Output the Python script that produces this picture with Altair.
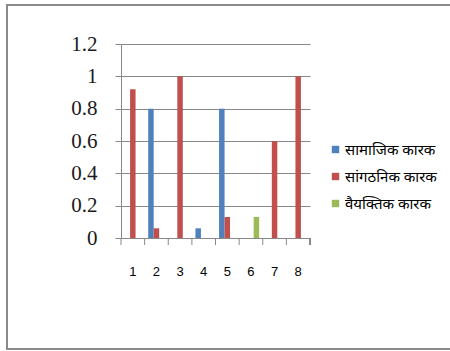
import altair as alt
import pandas as pd

# Category labels and the three factor series
categories = ["1", "2", "3", "4", "5", "6", "7", "8"]
series = ["सामाजिक कारक", "सांगठनिक कारक", "वैयक्तिक कारक"]
social = [0, 0.8, 0, 0.06, 0.8, 0, 0, 0]
organisational = [0.92, 0.06, 1, 0, 0.13, 0, 0.6, 1]
personal = [0, 0, 0, 0, 0, 0.13, 0, 0]
colors = ["#4F81BD", "#C0504D", "#9BBB59"]

rows = []
for name, vals in zip(series, [social, organisational, personal]):
    for c, v in zip(categories, vals):
        rows.append({"cat": c, "series": name, "value": v})
df = pd.DataFrame(rows)

W, H = 189, 194
grid = "#888888"

bars = alt.Chart(df).mark_bar().encode(
    x=alt.X("cat:N", sort=categories,
            scale=alt.Scale(paddingInner=0, paddingOuter=0),
            axis=alt.Axis(title=None, labelAngle=0, ticks=False,
                          domainColor=grid, labelFont="Liberation Sans",
                          labelFontSize=13, labelColor="#000000",
                          labelPadding=27)),
    xOffset=alt.XOffset("series:N", sort=series,
                        scale=alt.Scale(paddingInner=0, paddingOuter=0.65)),
    y=alt.Y("value:Q", scale=alt.Scale(domain=[0, 1.2]),
            axis=alt.Axis(title=None, values=[0, 0.2, 0.4, 0.6, 0.8, 1, 1.2],
                          format="~g", grid=True, gridColor=grid,
                          domainColor=grid, tickColor=grid, tickSize=6,
                          labelFont="Liberation Serif", labelFontSize=21,
                          labelColor="#1a1a1a", labelPadding=18)),
    color=alt.Color("series:N", sort=series,
                    scale=alt.Scale(domain=series, range=colors),
                    legend=alt.Legend(title=None, orient="none",
                                      legendX=207, legendY=98,
                                      symbolType="square", symbolSize=55,
                                      symbolStrokeWidth=0,
                                      rowPadding=11,
                                      labelFontSize=15, labelFont="Noto Sans",
                                      labelColor="#000000", labelOffset=2)),
)

# tick marks on the category boundaries
tick_df = pd.DataFrame({"cat": categories})
ticks = alt.Chart(tick_df).mark_rule(color=grid).encode(
    x=alt.X("cat:N", sort=categories, bandPosition=0),
    y=alt.value(H), y2=alt.value(H + 7),
)
last_tick = alt.Chart(tick_df).mark_rule(color=grid).encode(
    x=alt.value(W), y=alt.value(H), y2=alt.value(H + 7),
)

# outer frame
frame = alt.Chart(tick_df).mark_rect(fill=None, stroke="#8a8a8a",
                                     strokeWidth=2).encode(
    x=alt.value(-114), x2=alt.value(336),
    y=alt.value(-39), y2=alt.value(305),
)

chart = alt.layer(frame, bars, ticks, last_tick).properties(
    width=W, height=H,
    padding={"left": 121, "top": 44, "right": 140, "bottom": 113},
    autosize=alt.AutoSizeParams(type="none"),
    background="#ffffff",
).configure_view(stroke=None)

chart.save("out.html", embed_options={"renderer": "svg", "actions": False})
